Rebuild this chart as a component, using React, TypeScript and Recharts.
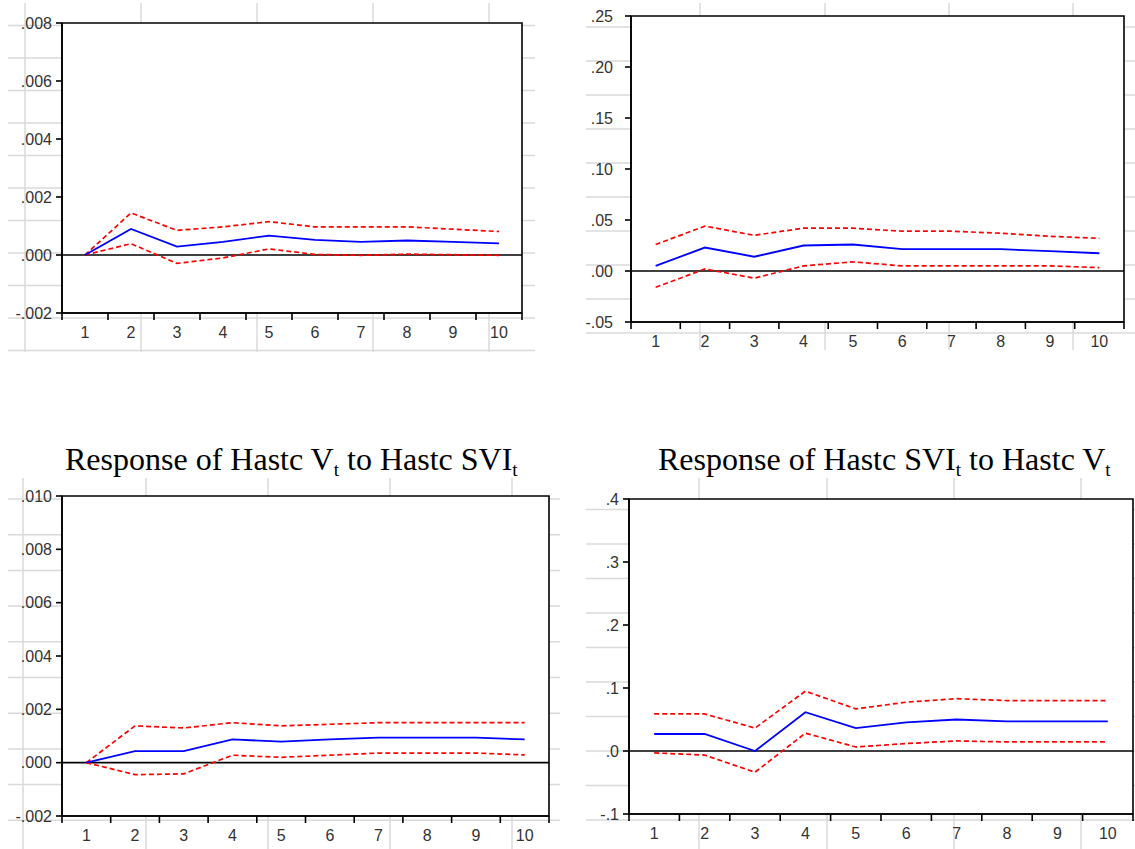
import { LineChart, Line, XAxis, YAxis, ReferenceLine, ReferenceArea } from "recharts";

const periods = [1, 2, 3, 4, 5, 6, 7, 8, 9, 10];

// top left panel
const p1Response = [0, 0.0009, 0.00029, 0.00045, 0.00067, 0.00052, 0.00045, 0.0005, 0.00045, 0.0004];
const p1Upper = [0, 0.00145, 0.00085, 0.00097, 0.00115, 0.00097, 0.00097, 0.00097, 0.00089, 0.00081];
const p1Lower = [0, 0.00039, -0.00029, -0.0001, 0.00021, 0.00002, -0.00001, 0.00003, 0.00001, -0.00001];
const p1Ticks = [-0.002, 0, 0.002, 0.004, 0.006, 0.008];

// top right panel
const p2Response = [0.005, 0.023, 0.014, 0.025, 0.026, 0.0214, 0.0214, 0.0214, 0.0194, 0.0174];
const p2Upper = [0.026, 0.044, 0.035, 0.042, 0.042, 0.039, 0.039, 0.037, 0.034, 0.032];
const p2Lower = [-0.016, 0.002, -0.007, 0.005, 0.009, 0.005, 0.005, 0.005, 0.005, 0.0033];
const p2Ticks = [-0.05, 0, 0.05, 0.1, 0.15, 0.2, 0.25];

// Response of Hastc V to Hastc SVI
const p3Response = [0, 0.00043, 0.00043, 0.00087, 0.00079, 0.00087, 0.00094, 0.00094, 0.00094, 0.00087];
const p3Upper = [0, 0.00138, 0.0013, 0.0015, 0.00138, 0.00144, 0.0015, 0.0015, 0.0015, 0.0015];
const p3Lower = [0, -0.00045, -0.00042, 0.00028, 0.0002, 0.00028, 0.00036, 0.00036, 0.00036, 0.00029];
const p3Ticks = [-0.002, 0, 0.002, 0.004, 0.006, 0.008, 0.01];

// Response of Hastc SVI to Hastc V
const p4Response = [0.027, 0.027, 0, 0.0615, 0.0364, 0.0455, 0.05, 0.047, 0.047, 0.047];
const p4Upper = [0.0588, 0.0588, 0.0364, 0.095, 0.0668, 0.0775, 0.083, 0.08, 0.08, 0.08];
const p4Lower = [-0.003, -0.0064, -0.0337, 0.0283, 0.0064, 0.0118, 0.016, 0.0144, 0.0144, 0.0144];
const p4Ticks = [-0.1, 0, 0.1, 0.2, 0.3, 0.4];

const sans = '"Liberation Sans", Arial, sans-serif';
const serif = '"Liberation Serif", "Times New Roman", serif';

const toRows = (mid: number[], upper: number[], lower: number[]) =>
  periods.map((p, i) => ({ period: p, mid: mid[i], upper: upper[i], lower: lower[i] }));

// faint sheet lines sitting behind the graphs
const backdrop = [
  { hx0: 8, hx1: 535, vy0: 3, vy1: 352, xs: [25, 141, 257, 373, 489], y0: 25.5, step: 32.5, n: 11 },
  { hx0: 586, hx1: 1135, vy0: 3, vy1: 350, xs: [700, 825, 949, 1073], y0: 27, step: 34, n: 10 },
  { hx0: 8, hx1: 560, vy0: 478, vy1: 849, xs: [23, 146, 268, 390, 512], y0: 499, step: 35.7, n: 10 },
  { hx0: 586, hx1: 1135, vy0: 478, vy1: 849, xs: [699, 827, 954, 1081], y0: 509.5, step: 34.5, n: 10 },
];

function Backdrop() {
  return (
    <svg width={1135} height={849} style={{ position: "absolute", left: 0, top: 0 }}>
      {backdrop.map((b, i) => (
        <g key={i} stroke="#dadada" strokeWidth={1.5}>
          {b.xs.map((x) => (
            <line key={"v" + x} x1={x} x2={x} y1={b.vy0} y2={b.vy1} />
          ))}
          {Array.from({ length: b.n }, (_, k) => b.y0 + k * b.step).map((y) => (
            <line key={"h" + y} x1={b.hx0} x2={b.hx1} y1={y} y2={y} />
          ))}
        </g>
      ))}
    </svg>
  );
}

interface PanelProps {
  rows: { period: number; mid: number; upper: number; lower: number }[];
  ticks: number[];
  decimals: number;
  left: number;
  top: number;
  width: number;
  height: number;
  labelGap: number;
}

function Panel({ rows, ticks, decimals, left, top, width, height, labelGap }: PanelProps) {
  const half = width / periods.length / 2;
  const edges = [...periods.map((p) => p - 0.5), periods[periods.length - 1] + 0.5];
  const lastEdge = edges[edges.length - 1];
  const domain = [ticks[0], ticks[ticks.length - 1]];
  const fmt = (v: number) => v.toFixed(decimals).replace(/^(-?)0\./, "$1.");
  const axisStroke = { stroke: "#000", strokeWidth: 1.6 };

  const renderTick = (props: any) => {
    const { x, y, payload } = props;
    if (payload.value >= lastEdge) return <g />;
    return (
      <text x={x + half} y={y} dy="0.71em" textAnchor="middle" fontSize={16} fill="#333" fontFamily={sans}>
        {payload.value + 0.5}
      </text>
    );
  };

  return (
    <div style={{ position: "absolute", left: left - 60, top: top - 10 }}>
      <LineChart width={width + 70} height={height + 50} data={rows} margin={{ top: 10, right: 10, left: 0, bottom: 0 }}>
        <XAxis
          dataKey="period"
          type="number"
          domain={[edges[0], lastEdge]}
          ticks={edges}
          interval={0}
          height={40}
          tickSize={7}
          tickMargin={7}
          axisLine={axisStroke}
          tickLine={axisStroke}
          tick={renderTick}
        />
        <YAxis
          type="number"
          domain={domain}
          ticks={ticks}
          interval={0}
          width={60}
          tickSize={6}
          tickMargin={labelGap}
          tickFormatter={fmt}
          tick={{ fontSize: 16, fill: "#333", fontFamily: sans }}
          axisLine={axisStroke}
          tickLine={axisStroke}
        />
        <ReferenceArea
          x1={edges[0]}
          x2={lastEdge}
          y1={domain[0]}
          y2={domain[1]}
          fill="#fff"
          fillOpacity={1}
          stroke="#000"
          strokeWidth={1.6}
        />
        <ReferenceLine y={0} stroke="#000" strokeWidth={1.6} />
        <Line type="linear" dataKey="upper" stroke="#ff0000" strokeWidth={1.7} strokeDasharray="5 3" dot={false} isAnimationActive={false} />
        <Line type="linear" dataKey="lower" stroke="#ff0000" strokeWidth={1.7} strokeDasharray="5 3" dot={false} isAnimationActive={false} />
        <Line type="linear" dataKey="mid" stroke="#0000ff" strokeWidth={1.8} dot={false} isAnimationActive={false} />
      </LineChart>
    </div>
  );
}

function Sub({ children }: { children: string }) {
  return <span style={{ fontSize: "0.6em", position: "relative", top: "0.3em" }}>{children}</span>;
}

const titleStyle = {
  position: "absolute" as const,
  top: 443,
  fontFamily: serif,
  fontSize: 32,
  lineHeight: "32px",
  whiteSpace: "nowrap" as const,
  color: "#000",
};

export default function App() {
  return (
    <div style={{ position: "absolute", left: 0, top: 0, width: 1135, height: 849, background: "#fff", overflow: "hidden" }}>
      <Backdrop />
      <Panel rows={toRows(p1Response, p1Upper, p1Lower)} ticks={p1Ticks} decimals={3} left={62} top={23} width={460} height={290} labelGap={4} />
      <Panel rows={toRows(p2Response, p2Upper, p2Lower)} ticks={p2Ticks} decimals={2} left={631} top={16} width={493} height={306} labelGap={12} />
      <div style={{ ...titleStyle, left: 65 }}>
        Response of Hastc V<Sub>t</Sub> to Hastc SVI<Sub>t</Sub>
      </div>
      <div style={{ ...titleStyle, left: 658 }}>
        Response of Hastc SVI<Sub>t</Sub> to Hastc V<Sub>t</Sub>
      </div>
      <Panel rows={toRows(p3Response, p3Upper, p3Lower)} ticks={p3Ticks} decimals={3} left={62} top={496} width={487} height={320} labelGap={4} />
      <Panel rows={toRows(p4Response, p4Upper, p4Lower)} ticks={p4Ticks} decimals={1} left={629} top={499} width={504} height={315} labelGap={4} />
    </div>
  );
}
